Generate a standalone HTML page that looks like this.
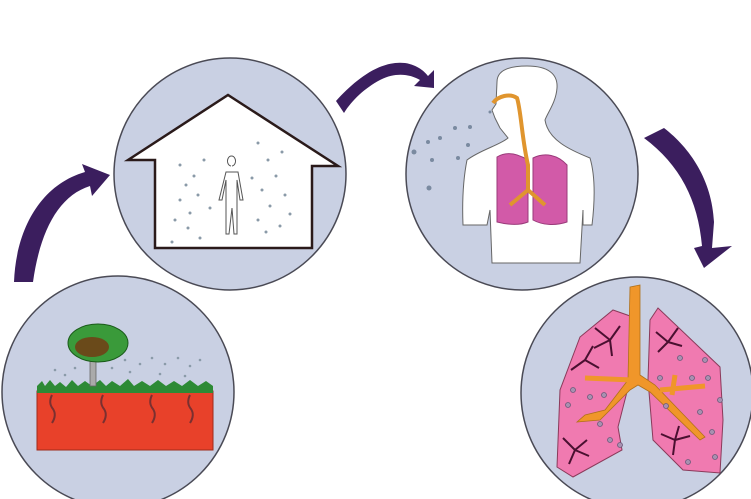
<!DOCTYPE html>
<html><head><meta charset="utf-8"><style>html,body{margin:0;padding:0;background:#fff}svg{display:block}</style></head>
<body>
<svg width="751" height="499" viewBox="0 0 751 499" xmlns="http://www.w3.org/2000/svg">
<g fill="#c9d0e3" stroke="#4a4a55" stroke-width="1.5">
<circle cx="118" cy="392" r="116"/>
<circle cx="230" cy="174" r="116"/>
<circle cx="522" cy="174" r="116"/>
<circle cx="637" cy="393" r="116"/>
</g>
<!-- arrows -->
<g fill="#3b1e5e">
<path d="M14,282 C16,230 40,185 85,172 L82,164 L110,175 L92,196 L90,186 C58,196 40,232 33,282 Z"/>
<path d="M336,101 C355,80 380,60 405,63 C418,65 425,72 428,76 L434,70 L434,88 L414,86 L420,80 C410,74 395,72 380,80 C365,88 352,100 344,113 Z"/>
<path d="M644,138 L664,128 C690,148 712,180 714,222 L712,248 L732,246 L704,268 L694,248 L702,246 C698,200 680,165 644,138 Z"/>
</g>
<!-- house -->
<path d="M128,160 L228,95 L338,166 L312,166 L312,248 L155,248 L155,160 Z" fill="#fff" stroke="#2a1a1a" stroke-width="2.5"/>
<g fill="#8a9aa8">
<circle cx="180" cy="165" r="1.5"/><circle cx="194" cy="176" r="1.5"/><circle cx="186" cy="185" r="1.5"/><circle cx="198" cy="195" r="1.5"/><circle cx="180" cy="200" r="1.5"/><circle cx="190" cy="213" r="1.5"/><circle cx="175" cy="220" r="1.5"/><circle cx="188" cy="228" r="1.5"/><circle cx="200" cy="238" r="1.5"/><circle cx="204" cy="160" r="1.5"/><circle cx="210" cy="208" r="1.5"/><circle cx="172" cy="242" r="1.5"/><circle cx="258" cy="143" r="1.5"/><circle cx="268" cy="160" r="1.5"/><circle cx="282" cy="152" r="1.5"/><circle cx="276" cy="176" r="1.5"/><circle cx="262" cy="190" r="1.5"/><circle cx="285" cy="195" r="1.5"/><circle cx="270" cy="206" r="1.5"/><circle cx="290" cy="214" r="1.5"/><circle cx="266" cy="232" r="1.5"/><circle cx="280" cy="226" r="1.5"/><circle cx="252" cy="178" r="1.5"/><circle cx="258" cy="220" r="1.5"/>
</g>
<path d="M231,166 a4,5 0 1 1 1,0 M226,172 L238,172 L243,200 L240,200 L237,180 L237,234 L234,234 L232,208 L229,234 L226,234 L226,180 L222,200 L219,200 Z" fill="#fff" stroke="#555" stroke-width="1"/>
<!-- soil -->
<rect x="37" y="391" width="176" height="59" fill="#e8412a" stroke="#a02a1a" stroke-width="1"/>
<path d="M37,393 L37,386 L42,381 L45,386 L50,380 L55,386 L60,382 L66,387 L72,380 L78,386 L85,381 L92,386 L100,380 L106,386 L112,381 L120,386 L128,379 L134,386 L142,381 L150,386 L158,380 L166,386 L174,381 L182,386 L190,380 L198,386 L206,381 L213,386 L213,393 Z" fill="#2d8a35"/>
<g stroke="#7a3030" stroke-width="2" fill="none">
<path d="M52,395 q-4,8 1,14 q4,6 -1,14"/><path d="M103,395 q-4,8 1,14 q4,6 -1,14"/><path d="M152,395 q-4,8 1,14 q4,6 -1,14"/><path d="M190,395 q-4,8 1,14 q4,6 -1,14"/>
</g>
<rect x="90" y="355" width="6" height="31" fill="#aaa" stroke="#666" stroke-width="0.8"/>
<ellipse cx="98" cy="343" rx="30" ry="19" fill="#3a9a3a" stroke="#1a5a1a"/>
<ellipse cx="92" cy="347" rx="17" ry="10" fill="#6a4a1a"/>
<g fill="#8a9aa8">
<circle cx="55" cy="370" r="1.3"/><circle cx="65" cy="375" r="1.3"/><circle cx="75" cy="368" r="1.3"/><circle cx="112" cy="368" r="1.3"/><circle cx="125" cy="360" r="1.3"/><circle cx="140" cy="364" r="1.3"/><circle cx="152" cy="358" r="1.3"/><circle cx="165" cy="364" r="1.3"/><circle cx="178" cy="358" r="1.3"/><circle cx="190" cy="366" r="1.3"/><circle cx="200" cy="360" r="1.3"/><circle cx="130" cy="372" r="1.3"/><circle cx="160" cy="374" r="1.3"/><circle cx="185" cy="376" r="1.3"/>
</g>
<!-- body -->
<path d="M497,82 C497,70 510,66 527,66 C548,66 558,74 557,88 C556,102 548,112 545,120 C548,140 570,150 590,158 C595,175 595,200 592,225 L583,225 L583,210 L580,263 L492,263 L490,210 L487,225 L463,225 C462,200 463,180 467,160 C480,150 500,145 508,138 L500,128 L495,118 L492,110 L496,104 Z" fill="#fff" stroke="#666" stroke-width="1"/>
<path d="M497,157 C505,152 515,152 528,160 L528,222 C518,226 505,224 497,222 Z" fill="#d25aa8" stroke="#9a3a7a"/>
<path d="M533,158 C545,152 558,155 567,165 L567,222 C555,226 542,225 533,220 Z" fill="#d25aa8" stroke="#9a3a7a"/>
<path d="M493,103 C498,96 510,93 517,98 C521,110 522,140 528,165 L528,190 M528,190 L510,205 M528,190 L545,205" fill="none" stroke="#e0952e" stroke-width="4"/>
<g fill="#7a8aa0">
<circle cx="414" cy="152" r="2.5"/><circle cx="428" cy="142" r="2"/><circle cx="440" cy="138" r="2"/><circle cx="455" cy="128" r="2"/><circle cx="470" cy="127" r="2"/><circle cx="468" cy="145" r="2"/><circle cx="458" cy="158" r="2"/><circle cx="432" cy="160" r="2"/><circle cx="429" cy="188" r="2.5"/><circle cx="490" cy="112" r="1.5"/>
</g>
<!-- big lungs -->
<path d="M613,310 L633,317 L630,380 L618,427 L622,450 L573,477 L557,467 L560,390 L580,337 Z" fill="#f07ab0" stroke="#8a3a5a"/>
<path d="M658,308 L650,320 L648,380 L653,440 L683,470 L720,473 L723,420 L720,367 Z" fill="#f07ab0" stroke="#8a3a5a"/>
<path d="M630,287 L640,285 L640,375 L655,385 L705,437 L700,440 L650,392 L638,385 L630,390 L600,420 L577,422 L585,415 L605,410 L628,380 Z" fill="#f0962a" stroke="#b0701a" stroke-width="0.8"/>
<path d="M632,380 L585,378 M660,390 L705,386 M672,395 L675,375" stroke="#f0962a" stroke-width="5" fill="none"/>
<g stroke="#4a1030" stroke-width="2" fill="none">
<path d="M610,340 l-15,-12 M610,340 l10,-14 M610,340 l2,16 M610,340 l-16,8"/>
<path d="M585,360 l-14,10 M585,360 l8,-14 M585,360 l14,8"/>
<path d="M575,450 l-12,-12 M575,450 l12,-10 M575,450 l-6,14 M575,450 l14,6"/>
<path d="M668,342 l-12,-10 M668,342 l10,-14 M668,342 l-10,10 M668,342 l14,4"/>
<path d="M675,440 l-14,-6 M675,440 l4,-14 M675,440 l-2,15 M675,440 l15,-4"/>
</g>
<g fill="#a890b0" stroke="#6a5a7a" stroke-width="0.8">
<circle cx="573" cy="390" r="2.5"/><circle cx="590" cy="397" r="2.5"/><circle cx="604" cy="395" r="2.5"/><circle cx="568" cy="405" r="2.5"/><circle cx="610" cy="440" r="2.5"/><circle cx="620" cy="445" r="2.5"/><circle cx="600" cy="424" r="2.5"/>
<circle cx="705" cy="360" r="2.5"/><circle cx="680" cy="358" r="2.5"/><circle cx="692" cy="378" r="2.5"/><circle cx="708" cy="378" r="2.5"/><circle cx="660" cy="378" r="2.5"/><circle cx="720" cy="400" r="2.5"/><circle cx="700" cy="412" r="2.5"/><circle cx="712" cy="432" r="2.5"/><circle cx="715" cy="457" r="2.5"/><circle cx="688" cy="462" r="2.5"/><circle cx="666" cy="406" r="2.5"/>
</g>
</svg>
</body></html>
